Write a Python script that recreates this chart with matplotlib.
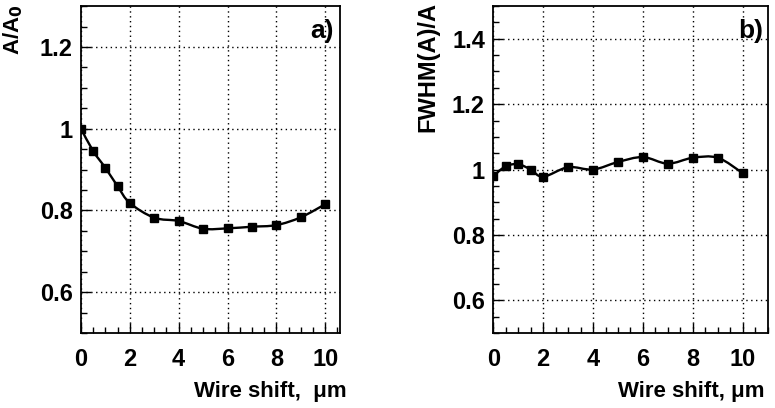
import numpy as np
import matplotlib
matplotlib.use("Agg")
import matplotlib.pyplot as plt
from matplotlib.path import Path
from matplotlib.patches import PathPatch
from matplotlib.ticker import MultipleLocator

# data
shift = [0, 0.5, 1, 1.5, 2, 3, 4, 5, 6, 7, 8, 9, 10]
amp_ratio = [1.0, 0.945, 0.904, 0.859, 0.818, 0.782, 0.774, 0.755, 0.756, 0.760, 0.764, 0.783, 0.815]
fwhm_ratio = [0.980, 1.010, 1.016, 1.000, 0.978, 1.007, 1.000, 1.023, 1.038, 1.018, 1.036, 1.036, 0.989]

plt.rcParams['font.family'] = ['Liberation Sans', 'DejaVu Sans']
plt.rcParams['font.weight'] = 'bold'
plt.rcParams['mathtext.default'] = 'bf'


# smooth curve through the points (Catmull-Rom as bezier segments)
def smooth_path(x, y):
    p = np.column_stack([x, y]).astype(float)
    pts = np.vstack([p[0], p, p[-1]])
    verts = [p[0]]
    codes = [Path.MOVETO]
    for i in range(1, len(pts) - 2):
        c1 = pts[i] + (pts[i + 1] - pts[i - 1]) / 6
        c2 = pts[i + 1] - (pts[i + 2] - pts[i]) / 6
        verts += [c1, c2, pts[i + 1]]
        codes += [Path.CURVE4] * 3
    return Path(verts, codes)


def style_axes(ax, ylim, xmax, major_y):
    ax.set_xlim(0, xmax)
    ax.set_ylim(*ylim)
    ax.xaxis.set_major_locator(MultipleLocator(2))
    ax.xaxis.set_minor_locator(MultipleLocator(0.5))
    ax.yaxis.set_major_locator(MultipleLocator(major_y))
    ax.yaxis.set_minor_locator(MultipleLocator(0.05))
    ax.tick_params(which='both', direction='in', top=False, right=False,
                   labelsize=17, width=1)
    ax.tick_params(which='major', length=7)
    ax.tick_params(which='minor', length=4)
    ax.tick_params(axis='x', pad=11)
    ax.tick_params(axis='y', pad=6)
    ax.grid(True, which='major', linestyle=(0, (1, 2.5)), color='black', linewidth=1)
    for s in ax.spines.values():
        s.set_linewidth(1.3)
    ax.xaxis.set_major_formatter(plt.FuncFormatter(lambda v, p: f"{v:g}"))
    ax.yaxis.set_major_formatter(plt.FuncFormatter(lambda v, p: f"{round(v, 2):g}"))


fig = plt.figure(figsize=(7.75, 4.08), dpi=100)
ax1 = fig.add_axes([0.1045, 0.184, 0.334, 0.801])
ax2 = fig.add_axes([0.6365, 0.184, 0.354, 0.801])

style_axes(ax1, (0.5, 1.3), 10.6, 0.2)
style_axes(ax2, (0.5, 1.5), 11.0, 0.2)

for ax, vals in [(ax1, amp_ratio), (ax2, fwhm_ratio)]:
    ax.add_patch(PathPatch(smooth_path(shift, vals), facecolor='none',
                           edgecolor='black', linewidth=1.7, zorder=3))
    ax.plot(shift, vals, linestyle='none', marker='s', markersize=5.5,
            color='black', zorder=4)

ax1.text(0.975, 0.925, 'a)', transform=ax1.transAxes, ha='right', va='center',
         fontsize=19, fontweight='bold')
ax2.text(0.985, 0.925, 'b)', transform=ax2.transAxes, ha='right', va='center',
         fontsize=19, fontweight='bold')

fig.text(13.5 / 775, 1 - 4 / 408, 'A/A$_\\mathbf{0}$', rotation=90, ha='center', va='top',
         fontsize=16, fontweight='bold')
fig.text(428 / 775, 1 - 2 / 408, 'FWHM(A)/A', rotation=90, ha='center', va='top',
         fontsize=17, fontweight='bold')

fig.text(347 / 775, 1 - 392 / 408, 'Wire shift,  \u03bcm', ha='right', va='center',
         fontsize=16, fontweight='bold')
fig.text(765 / 775, 1 - 392 / 408, 'Wire shift, \u03bcm', ha='right', va='center',
         fontsize=16, fontweight='bold')

fig.savefig('out.png', dpi=100, facecolor='white')
